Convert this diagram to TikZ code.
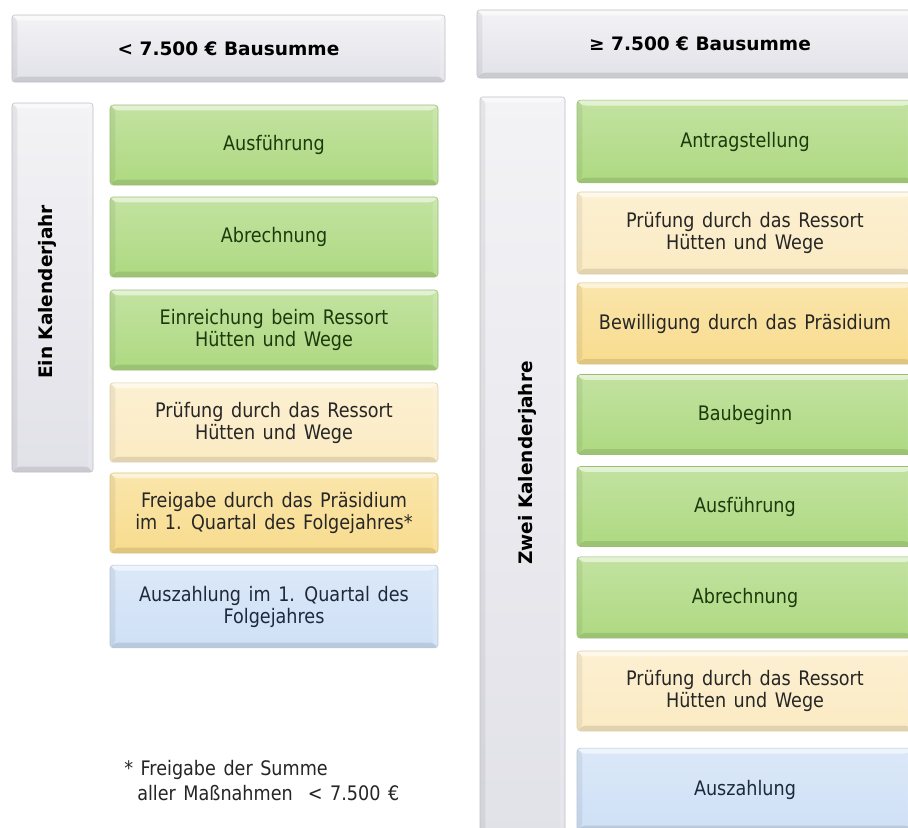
\documentclass[tikz,border=0pt]{standalone}
\usepackage{fontspec}
\setmainfont{DejaVu Sans}[FakeStretch=0.88, WordSpace=1.35]
\newfontfamily\hdfont{DejaVu Sans}
\definecolor{grn}{HTML}{AED981}
\definecolor{grnT}{HTML}{1C3A0C}
\definecolor{pyl}{HTML}{FBEBC3}
\definecolor{yl}{HTML}{F8DC8E}
\definecolor{blu}{HTML}{CFE0F6}
\definecolor{gry}{HTML}{E1E1E8}
\definecolor{txt}{HTML}{262626}
\definecolor{bluT}{HTML}{1E2A3C}
\tikzset{
 bev/.style={path picture={
  \path (path picture bounding box.north west) coordinate (pnw)
        (path picture bounding box.north east) coordinate (pne)
        (path picture bounding box.south west) coordinate (psw)
        (path picture bounding box.south east) coordinate (pse);
  \fill[white,opacity=.55] (pnw) -- (pne) -- ([shift={(-4pt,-4pt)}]pne) -- ([shift={(4pt,-4pt)}]pnw) -- cycle;
  \fill[black,opacity=.06] (pnw) -- ([shift={(4pt,-4pt)}]pnw) -- ([shift={(4pt,4pt)}]psw) -- (psw) -- cycle;
  \fill[black,opacity=.10] (psw) -- (pse) -- ([shift={(-4pt,4pt)}]pse) -- ([shift={(4pt,4pt)}]psw) -- cycle;
  \fill[white,opacity=.15] (pne) -- ([shift={(-4pt,-4pt)}]pne) -- ([shift={(-4pt,4pt)}]pse) -- (pse) -- cycle;
 }},
 stepbox/.style={rectangle, rounded corners=2.5pt, top color=#1!75!white, bottom color=#1,
   draw=#1!88!black, line width=0.4pt, bev, align=center, inner sep=2pt,
   font=\fontsize{15}{16.5}\selectfont},
 gbox/.style={stepbox=grn, text=grnT},
 pbox/.style={stepbox=pyl, text=txt},
 ybox/.style={stepbox=yl, text=txt},
 bbox/.style={stepbox=blu, text=bluT},
 hdbox/.style={rectangle, rounded corners=2pt, top color=gry!40!white, bottom color=gry,
   draw=gry!85!black, line width=0.4pt, bev, text=black,
   font=\hdfont\bfseries\fontsize{13.9}{16}\selectfont},
 lbl/.style={rotate=90, text=black, font=\hdfont\bfseries\fontsize{13.9}{16}\selectfont},
 foot/.style={anchor=base west, inner sep=0pt, text=txt, font=\fontsize{15}{16.5}\selectfont},
}
\begin{document}
\begin{tikzpicture}[x=0.75pt,y=-0.75pt]
\clip (0,0) rectangle (908,828);
\fill[white] (0,0) rectangle (908,828);
% headers
\node[hdbox, minimum width=324.75pt, minimum height=50.25pt] (hl) at (228.5,48.5) {< 7.500 € Bausumme};
\node[hdbox, minimum width=334.5pt, minimum height=51pt] (hr) at (700,44) {≥ 7.500 € Bausumme};
% vertical bars
\node[hdbox, minimum width=60.75pt, minimum height=276.75pt] (bl) at (52.5,287.5) {};
\node[lbl] (bltxt) at (47,292) {Ein Kalenderjahr};
\node[hdbox, minimum width=63.75pt, minimum height=557.25pt] (br) at (522.5,468.5) {};
\node[lbl] (brtxt) at (527,463) {Zwei Kalenderjahre};
% left column
\node[gbox, minimum width=246pt, minimum height=60pt] (l1) at (274,145) {Ausführung};
\node[gbox, minimum width=246pt, minimum height=60pt] (l2) at (274,237) {Abrechnung};
\node[gbox, minimum width=246pt, minimum height=60pt] (l3) at (274,330) {Einreichung beim Ressort\\Hütten und Wege};
\node[pbox, minimum width=246pt, minimum height=59.5pt] (l4) at (274,422.5) {Prüfung durch das Ressort\\Hütten und Wege};
\node[ybox, minimum width=246pt, minimum height=60pt] (l5) at (274,513) {Freigabe durch das Präsidium\\im 1. Quartal des Folgejahres*};
\node[bbox, minimum width=246pt, minimum height=62pt] (l6) at (274,606.5) {Auszahlung im 1. Quartal des\\Folgejahres};
% right column
\node[gbox, minimum width=252pt, minimum height=62pt] (r1) at (745,141.5) {Antragstellung};
\node[pbox, minimum width=252pt, minimum height=61.5pt] (r2) at (745,233) {Prüfung durch das Ressort\\Hütten und Wege};
\node[ybox, minimum width=252pt, minimum height=61pt] (r3) at (745,323.5) {Bewilligung durch das Präsidium};
\node[gbox, minimum width=252pt, minimum height=60pt] (r4) at (745,414.5) {Baubeginn};
\node[gbox, minimum width=252pt, minimum height=60pt] (r5) at (745,506.5) {Ausführung};
\node[gbox, minimum width=252pt, minimum height=61pt] (r6) at (745,597.5) {Abrechnung};
\node[pbox, minimum width=252pt, minimum height=60pt] (r7) at (745,691) {Prüfung durch das Ressort\\Hütten und Wege};
\node[bbox, minimum width=252pt, minimum height=62pt] (r8) at (745,789.5) {Auszahlung};
% footnote
\node[foot] (f1) at (124,775) {* Freigabe der Summe};
\node[foot] (f2) at (137,800) {aller Maßnahmen\ \ < 7.500 €};
\end{tikzpicture}
\end{document}
